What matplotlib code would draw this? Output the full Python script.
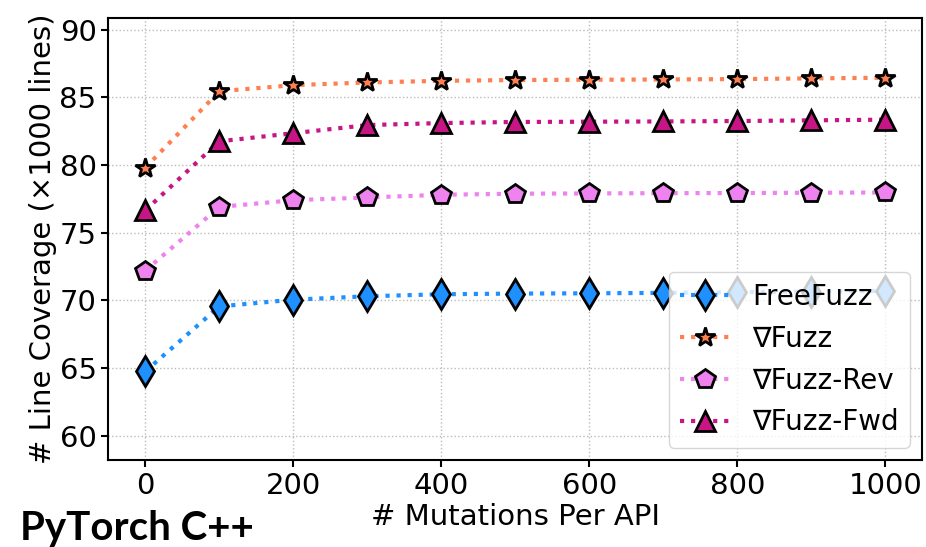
import matplotlib
matplotlib.use('Agg')
import matplotlib.pyplot as plt

# Data
mutations = [0, 100, 200, 300, 400, 500, 600, 700, 800, 900, 1000]
freefuzz = [64.75, 69.55, 70.05, 70.3, 70.45, 70.5, 70.52, 70.55, 70.6, 70.65, 70.7]
nablafuzz = [79.8, 85.45, 85.9, 86.1, 86.22, 86.28, 86.3, 86.32, 86.35, 86.4, 86.45]
nablafuzz_rev = [72.2, 76.9, 77.4, 77.6, 77.8, 77.88, 77.9, 77.92, 77.93, 77.95, 77.97]
nablafuzz_fwd = [76.65, 81.75, 82.35, 82.95, 83.1, 83.18, 83.2, 83.22, 83.25, 83.3, 83.35]

labels = ['FreeFuzz', '\u2207Fuzz', '\u2207Fuzz-Rev', '\u2207Fuzz-Fwd']
colors = ['#1E90FF', '#FF7F50', '#EE82EE', '#C71585']
markers = ['d', '*', 'p', '^']
series = [freefuzz, nablafuzz, nablafuzz_rev, nablafuzz_fwd]

fig = plt.figure(figsize=(9.26, 5.47), dpi=100)
ax = fig.add_axes([0.117, 0.159, 0.879, 0.809])

for ys, lab, c, m in zip(series, labels, colors, markers):
    ax.plot(mutations, ys, linestyle=':', linewidth=3, color=c, marker=m,
            markersize=15, markerfacecolor=c, markeredgecolor='black',
            markeredgewidth=2, label=lab)

ax.set_ylim(58.2, 90.9)
ax.set_yticks([60, 65, 70, 75, 80, 85, 90])
ax.set_xticks([0, 200, 400, 600, 800, 1000])
ax.tick_params(labelsize=21, width=1.5, length=5)
for s in ax.spines.values():
    s.set_linewidth(1.5)

ax.set_xlabel('# Mutations Per API', fontsize=21, labelpad=2)
ax.set_ylabel('# Line Coverage (\u00d71000 lines)', fontsize=21, labelpad=2)
ax.grid(True, linestyle=':', color='#bbbbbb', linewidth=1)
ax.set_axisbelow(True)

ax.legend(loc='lower right', fontsize=20, handlelength=1.8, labelspacing=0.5,
          borderaxespad=0.45)

fig.text(0.022, 0.013, 'PyTorch C++', fontsize=29, fontweight='bold',
         family=['Lato', 'DejaVu Sans'], va='baseline', ha='left')

plt.savefig('out.png', dpi=100)
